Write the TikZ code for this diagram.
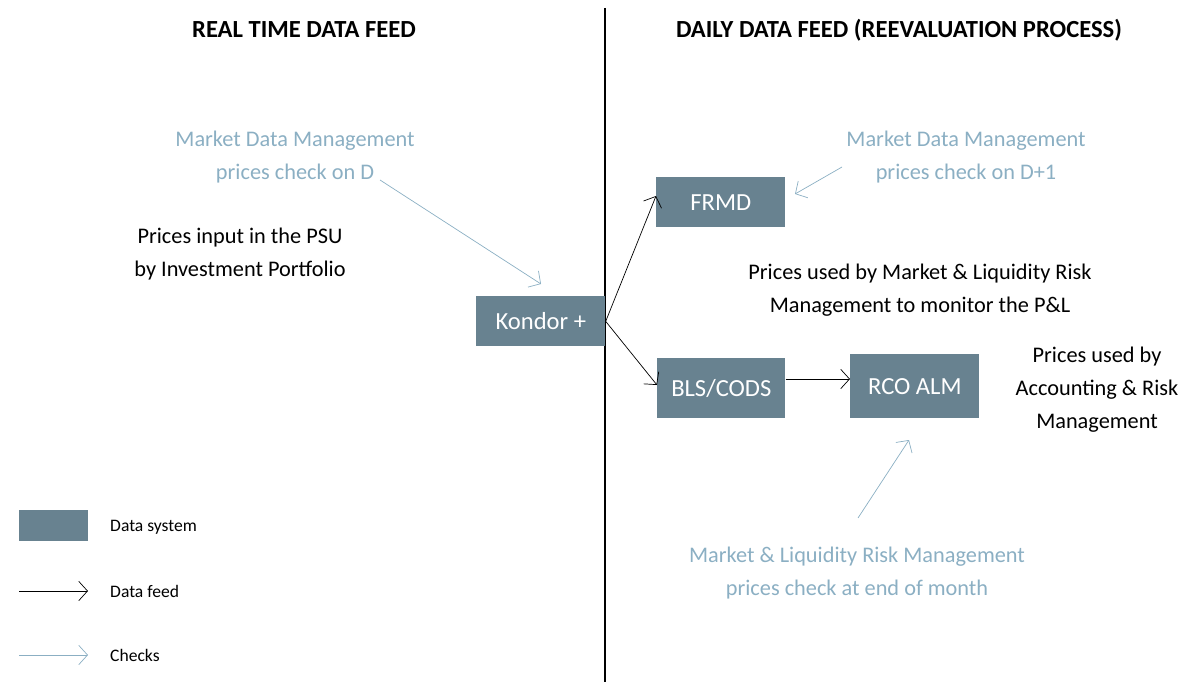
\documentclass[tikz,border=0pt]{standalone}
\usepackage{fontspec}
\setmainfont{Carlito}
\usetikzlibrary{arrows.meta}

\definecolor{sysgrey}{HTML}{688290}
\definecolor{checkblue}{HTML}{8BAFC3}

\begin{document}
\begin{tikzpicture}[
                x=0.02cm, y=-0.02cm,
                every node/.style={font=\fontsize{12.7}{18.8}\selectfont, align=center},
                system/.style={fill=sysgrey, text=white, font=\fontsize{14}{17}\selectfont, minimum width=2.58cm, minimum height=1cm, inner sep=0pt},
                feed/.style={black, -{Straight Barb[length=5pt,width=11pt]}},
                check/.style={checkblue, -{Straight Barb[length=5pt,width=11pt]}},
                checktext/.style={text=checkblue},
                header/.style={font=\fontsize{14}{17}\selectfont\bfseries},
                legendtext/.style={anchor=west, font=\fontsize{10}{12}\selectfont}
            ]
                \useasboundingbox (0,0) rectangle (1186,682);
                \draw[semithick] (605,8) -- (605,682);
                \node[header] (rtfeed) at (304,30) {REAL TIME DATA FEED};
                \node[header] (dailyfeed) at (899,30) {DAILY DATA FEED (REEVALUATION PROCESS)};
                % real time side
                \node[checktext] (mdmd) at (295,157) {Market Data Management\\prices check on D};
                \node (psu) at (240,254) {Prices input in the PSU\\by Investment Portfolio};
                \node[system, anchor=north west, minimum width=2.58cm] (kondor) at (476,296) {Kondor +};
                % daily side
                \node[system, anchor=north west] (frmd) at (656,177) {FRMD};
                \node[system, anchor=north west, minimum height=1.2cm, minimum width=2.56cm] (bls) at (657,358) {BLS/CODS};
                \node[system, anchor=north west, minimum height=1.28cm] (rco) at (850,354) {RCO ALM};
                \node[checktext] (mdmd1) at (966,157) {Market Data Management\\prices check on D+1};
                \node (mlrm) at (920,290) {Prices used by Market \& Liquidity Risk\\Management to monitor the P\&L};
                \node (acc) at (1097,390) {Prices used by\\Accounting \& Risk\\Management};
                \node[checktext] (eom) at (857,573) {Market \& Liquidity Risk Management\\prices check at end of month};
                \coordinate (kout) at (kondor.east);
                \draw[feed] (kout) -- (frmd.west |- 0,196);
                \draw[feed] (kout) -- (bls.west |- 0,385);
                \draw[feed] (bls.east |- 0,379) -- (rco.west |- 0,379);
                \draw[check] (380,180) -- (541,284);
                \draw[check] (842,167) -- (795,194);
                \draw[check] (858,518) -- (909,440);
                % legend
                \node[fill=sysgrey, minimum width=1.38cm, minimum height=0.62cm, inner sep=0pt, anchor=north west] (legsys) at (19,510) {};
                \node[legendtext] (legsystxt) at (104,527) {Data system};
                \coordinate (legfeedA) at (19,591);
                \coordinate (legfeedB) at (88,591);
                \draw[feed] (legfeedA) -- (legfeedB);
                \node[legendtext] (legfeedtxt) at (104,591) {Data feed};
                \coordinate (legchkA) at (19,655);
                \coordinate (legchkB) at (88,655);
                \draw[check] (legchkA) -- (legchkB);
                \node[legendtext] (legchktxt) at (104,655) {Checks};
            \end{tikzpicture}
\end{document}
